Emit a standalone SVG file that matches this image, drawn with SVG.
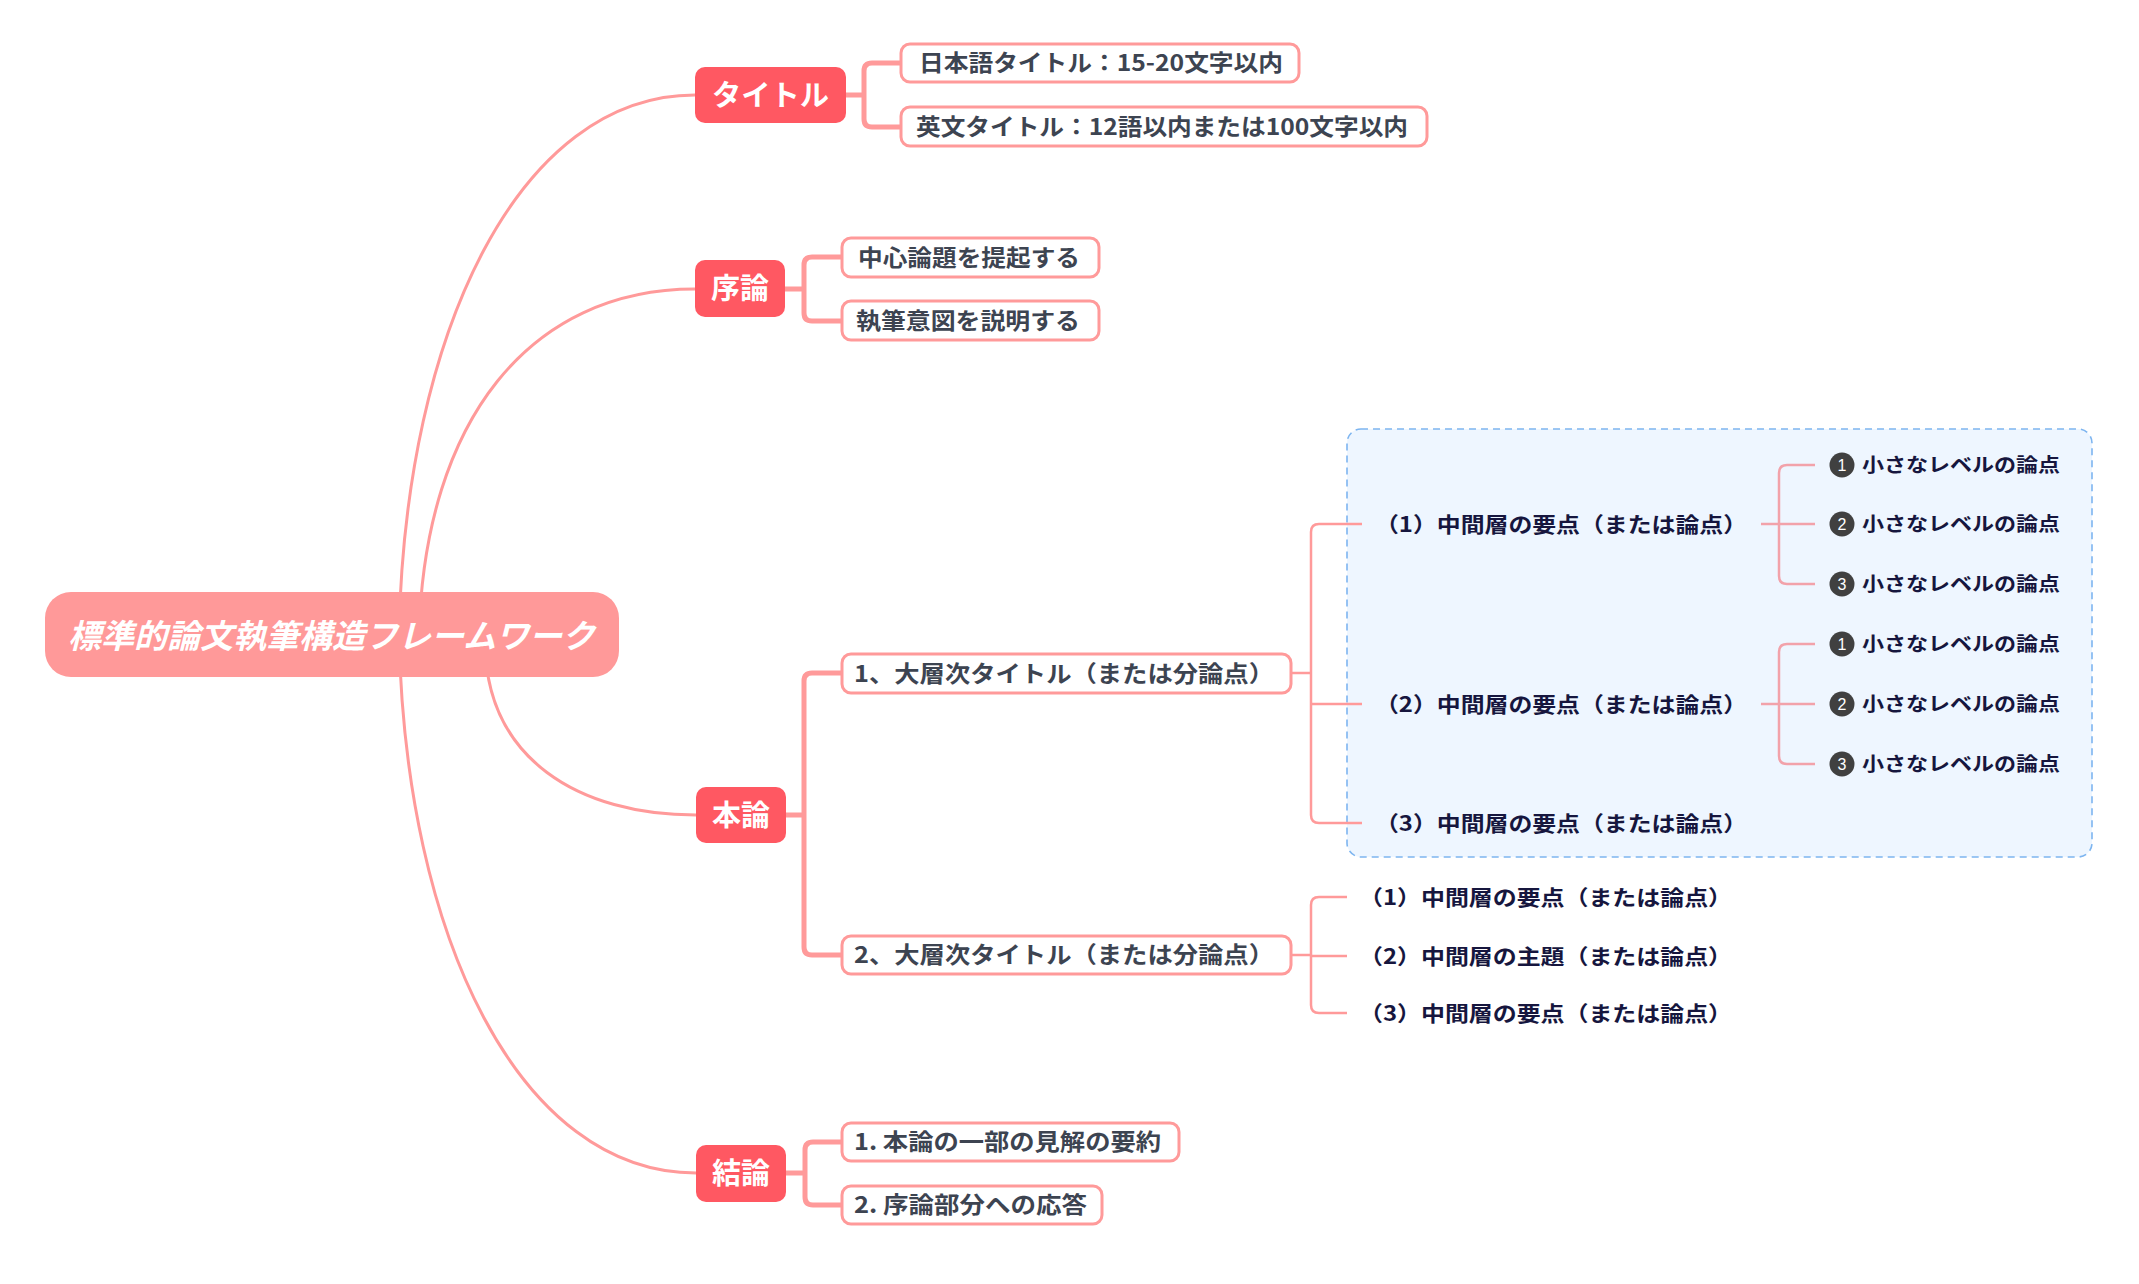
<svg xmlns="http://www.w3.org/2000/svg" width="2139" height="1284" viewBox="0 0 2139 1284">
  <style>
    .bg { fill: #ffffff; }
    .curve { fill: none; stroke: #ff9a9a; stroke-width: 3; }
    .l1 { fill: none; stroke: #ff9a9a; stroke-width: 5; }
    .l2 { fill: none; stroke: #ff9a9a; stroke-width: 2.5; }
    .l3 { fill: none; stroke: #f2a2aa; stroke-width: 2.5; }
    .root { fill: #ff9999; }
    .roottxt { font-family: "Noto Sans CJK JP", "Noto Sans CJK SC", sans-serif; font-size: 33px; font-weight: 700; font-style: italic; fill: #ffffff; }
    .main { fill: #ff5862; }
    .maintxt { font-family: "Noto Sans CJK JP", "Noto Sans CJK SC", sans-serif; font-size: 29px; font-weight: 700; fill: #ffffff; }
    .box { fill: #ffffff; stroke: #ff9a9a; stroke-width: 3; }
    .boxtxt { font-family: "Noto Sans CJK JP", "Noto Sans CJK SC", sans-serif; font-size: 23px; font-weight: 700; fill: #3d4451; }
    .midtxt { font-family: "Noto Sans CJK JP", "Noto Sans CJK SC", sans-serif; font-size: 21px; font-weight: 700; fill: #16163e; }
    .smtxt { font-family: "Noto Sans CJK JP", "Noto Sans CJK SC", sans-serif; font-size: 19px; font-weight: 700; fill: #16163e; }
    .num { fill: #404040; }
    .numtxt { font-family: "Liberation Sans", Arial, sans-serif; font-size: 16px; fill: #ffffff; text-anchor: middle; }
    .frame { fill: #eef6ff; stroke: #7db5f0; stroke-width: 1.6; stroke-dasharray: 7 5; }
  </style>
  <rect class="bg" x="0" y="0" width="2139" height="1284"/>

  <g id="summary-frame">
    <rect class="frame" x="1347" y="429" width="745" height="428" rx="14"/>
  </g>

  <g id="connectors">
    <path class="curve" d="M 399 634 C 405 330, 520 95, 695 95"/>
    <path class="curve" d="M 419 634 C 425 420, 530 289, 695 289"/>
    <path class="curve" d="M 485 640 C 485 760, 580 815, 696 815"/>
    <path class="curve" d="M 399 634 C 405 938, 520 1173, 696 1173"/>

    <path class="l1" d="M 846 95 H 864 M 901 63 H 872 Q 864 63 864 71 V 119 Q 864 127 872 127 H 901"/>
    <path class="l1" d="M 785 289 H 804 M 842 257 H 812 Q 804 257 804 265 V 313 Q 804 321 812 321 H 842"/>
    <path class="l1" d="M 786 815 H 804 M 842 673 H 812 Q 804 673 804 681 V 947 Q 804 955 812 955 H 842"/>
    <path class="l1" d="M 786 1173 H 805 M 842 1142 H 813 Q 805 1142 805 1150 V 1197 Q 805 1205 813 1205 H 842"/>

    <path class="l2" d="M 1291 673 H 1311 M 1362 524 H 1319 Q 1311 524 1311 532 V 815 Q 1311 823 1319 823 H 1362 M 1311 704 H 1362"/>
    <path class="l2" d="M 1291 955 H 1311 M 1347 897 H 1319 Q 1311 897 1311 905 V 1005 Q 1311 1013 1319 1013 H 1347 M 1311 956 H 1347"/>

    <path class="l3" d="M 1761 524 H 1815 M 1815 465 H 1787 Q 1779 465 1779 473 V 576 Q 1779 584 1787 584 H 1815"/>
    <path class="l3" d="M 1761 704 H 1815 M 1815 644 H 1787 Q 1779 644 1779 652 V 756 Q 1779 764 1787 764 H 1815"/>
  </g>

  <g id="root">
    <rect class="root" x="45" y="592" width="574" height="85" rx="26"/>
    <text class="roottxt" x="68" y="648" textLength="527" lengthAdjust="spacingAndGlyphs">標準的論文執筆構造フレームワーク</text>
  </g>

  <g id="n-title">
    <rect class="main" x="695" y="67" width="151" height="56" rx="10"/>
    <text class="maintxt" x="712" y="106" textLength="117" lengthAdjust="spacingAndGlyphs">タイトル</text>
  </g>
  <g id="n-intro">
    <rect class="main" x="695" y="260" width="90" height="57" rx="10"/>
    <text class="maintxt" x="711" y="299" textLength="58" lengthAdjust="spacingAndGlyphs">序論</text>
  </g>
  <g id="n-body">
    <rect class="main" x="696" y="787" width="90" height="56" rx="10"/>
    <text class="maintxt" x="712" y="826" textLength="58" lengthAdjust="spacingAndGlyphs">本論</text>
  </g>
  <g id="n-concl">
    <rect class="main" x="696" y="1145" width="90" height="57" rx="10"/>
    <text class="maintxt" x="712" y="1184" textLength="58" lengthAdjust="spacingAndGlyphs">結論</text>
  </g>

  <g id="n-title-ja">
    <rect class="box" x="901" y="44" width="398" height="38" rx="9"/>
    <text class="boxtxt" x="919" y="71" textLength="364" lengthAdjust="spacingAndGlyphs">日本語タイトル：15-20文字以内</text>
  </g>
  <g id="n-title-en">
    <rect class="box" x="901" y="107" width="526" height="39" rx="9"/>
    <text class="boxtxt" x="916" y="135" textLength="492" lengthAdjust="spacingAndGlyphs">英文タイトル：12語以内または100文字以内</text>
  </g>
  <g id="n-intro-1">
    <rect class="box" x="842" y="238" width="257" height="39" rx="9"/>
    <text class="boxtxt" x="858" y="266" textLength="222" lengthAdjust="spacingAndGlyphs">中心論題を提起する</text>
  </g>
  <g id="n-intro-2">
    <rect class="box" x="842" y="301" width="257" height="39" rx="9"/>
    <text class="boxtxt" x="856" y="329" textLength="224" lengthAdjust="spacingAndGlyphs">執筆意図を説明する</text>
  </g>
  <g id="n-body-1">
    <rect class="box" x="842" y="654" width="449" height="39" rx="9"/>
    <text class="boxtxt" x="854" y="682" textLength="420" lengthAdjust="spacingAndGlyphs">1、大層次タイトル（または分論点）</text>
  </g>
  <g id="n-body-2">
    <rect class="box" x="842" y="936" width="449" height="38" rx="9"/>
    <text class="boxtxt" x="854" y="963" textLength="420" lengthAdjust="spacingAndGlyphs">2、大層次タイトル（または分論点）</text>
  </g>
  <g id="n-concl-1">
    <rect class="box" x="842" y="1123" width="337" height="38" rx="9"/>
    <text class="boxtxt" x="854" y="1150" textLength="307" lengthAdjust="spacingAndGlyphs">1. 本論の一部の見解の要約</text>
  </g>
  <g id="n-concl-2">
    <rect class="box" x="842" y="1186" width="260" height="38" rx="9"/>
    <text class="boxtxt" x="854" y="1213" textLength="233" lengthAdjust="spacingAndGlyphs">2. 序論部分への応答</text>
  </g>

  <g id="n-b1-1"><text class="midtxt" x="1375" y="532" textLength="372" lengthAdjust="spacingAndGlyphs">（1）中間層の要点（または論点）</text></g>
  <g id="n-b1-2"><text class="midtxt" x="1375" y="712" textLength="372" lengthAdjust="spacingAndGlyphs">（2）中間層の要点（または論点）</text></g>
  <g id="n-b1-3"><text class="midtxt" x="1375" y="831" textLength="372" lengthAdjust="spacingAndGlyphs">（3）中間層の要点（または論点）</text></g>

  <g id="n-b2-1"><text class="midtxt" x="1359" y="905" textLength="373" lengthAdjust="spacingAndGlyphs">（1）中間層の要点（または論点）</text></g>
  <g id="n-b2-2"><text class="midtxt" x="1359" y="964" textLength="373" lengthAdjust="spacingAndGlyphs">（2）中間層の主題（または論点）</text></g>
  <g id="n-b2-3"><text class="midtxt" x="1359" y="1021" textLength="373" lengthAdjust="spacingAndGlyphs">（3）中間層の要点（または論点）</text></g>

  <g id="n-s1-1"><circle class="num" cx="1842" cy="465" r="12.5"/><text class="numtxt" x="1842" y="471">1</text><text class="smtxt" x="1862" y="472" textLength="198" lengthAdjust="spacingAndGlyphs">小さなレベルの論点</text></g>
  <g id="n-s1-2"><circle class="num" cx="1842" cy="524" r="12.5"/><text class="numtxt" x="1842" y="530">2</text><text class="smtxt" x="1862" y="531" textLength="198" lengthAdjust="spacingAndGlyphs">小さなレベルの論点</text></g>
  <g id="n-s1-3"><circle class="num" cx="1842" cy="584" r="12.5"/><text class="numtxt" x="1842" y="590">3</text><text class="smtxt" x="1862" y="591" textLength="198" lengthAdjust="spacingAndGlyphs">小さなレベルの論点</text></g>
  <g id="n-s2-1"><circle class="num" cx="1842" cy="644" r="12.5"/><text class="numtxt" x="1842" y="650">1</text><text class="smtxt" x="1862" y="651" textLength="198" lengthAdjust="spacingAndGlyphs">小さなレベルの論点</text></g>
  <g id="n-s2-2"><circle class="num" cx="1842" cy="704" r="12.5"/><text class="numtxt" x="1842" y="710">2</text><text class="smtxt" x="1862" y="711" textLength="198" lengthAdjust="spacingAndGlyphs">小さなレベルの論点</text></g>
  <g id="n-s2-3"><circle class="num" cx="1842" cy="764" r="12.5"/><text class="numtxt" x="1842" y="770">3</text><text class="smtxt" x="1862" y="771" textLength="198" lengthAdjust="spacingAndGlyphs">小さなレベルの論点</text></g>
</svg>
